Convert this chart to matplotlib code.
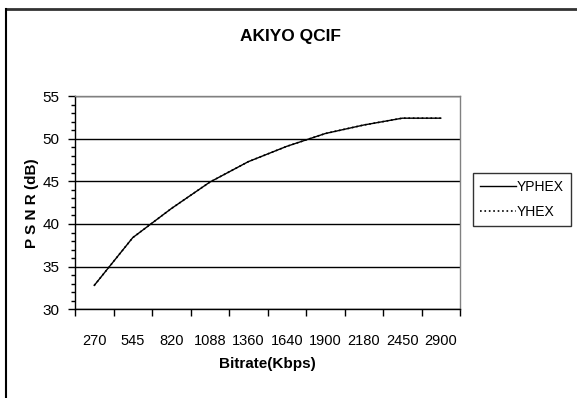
import matplotlib
matplotlib.use("Agg")
from matplotlib import pyplot as plt
from matplotlib.lines import Line2D
from matplotlib.ticker import MultipleLocator, FixedLocator, NullFormatter

FONT = ["Liberation Sans Narrow", "Liberation Sans", "DejaVu Sans"]
plt.rcParams["font.family"] = FONT

bitrates = ["270", "545", "820", "1088", "1360", "1640", "1900", "2180", "2450", "2900"]
yphex = [32.8, 38.4, 41.8, 44.9, 47.3, 49.1, 50.6, 51.6, 52.4, 52.4]
yhex = [32.8, 38.4, 41.8, 44.9, 47.3, 49.1, 50.6, 51.6, 52.4, 52.4]

W, H = 577, 398
fig = plt.figure(figsize=(W / 100, H / 100), dpi=100)

# plot area in pixels: left 75, right 460, top 96, bottom 309
ax = fig.add_axes([75 / W, 1 - 309.3 / H, (460 - 75) / W, (309.3 - 96) / H])

xs = [i + 0.5 for i in range(len(bitrates))]
ax.plot(xs, yphex, "-", color="black", lw=1.0, label="YPHEX")
ax.plot(xs, yhex, ":", color="black", lw=1.2, label="YHEX")

ax.set_xlim(0, len(bitrates))
ax.set_ylim(30, 55)

ax.yaxis.set_major_locator(MultipleLocator(5))
ax.yaxis.set_minor_locator(MultipleLocator(1))
ax.grid(axis="y", which="major", color="black", lw=1)

ax.xaxis.set_major_locator(FixedLocator(range(len(bitrates) + 1)))
ax.xaxis.set_major_formatter(NullFormatter())
ax.xaxis.set_minor_locator(FixedLocator(xs))
ax.set_xticklabels(bitrates, minor=True)

ax.tick_params(axis="x", which="major", direction="out", length=5, width=1)
ax.tick_params(axis="x", which="minor", length=0, pad=18, labelsize=10.5)
ax.tick_params(axis="y", which="major", direction="out", length=5, width=1, pad=6, labelsize=11)
ax.tick_params(axis="y", which="minor", direction="out", length=3, width=1)

for side in ["left", "bottom"]:
    ax.spines[side].set_color("black")
    ax.spines[side].set_linewidth(1)
for side in ["top", "right"]:
    ax.spines[side].set_color("#808080")
    ax.spines[side].set_linewidth(1)

fig.text(290 / W, 1 - 37 / H, "AKIYO QCIF", ha="center", va="center",
         fontsize=12.5, fontweight="bold")
fig.text(267.5 / W, 1 - 364 / H, "Bitrate(Kbps)", ha="center", va="center",
         fontsize=11, fontweight="bold")
fig.text(32 / W, 1 - 203 / H, "P S N R (dB)", ha="center", va="center",
         rotation=90, fontsize=11, fontweight="bold")

leg = fig.legend(loc="upper left", bbox_to_anchor=(472.7 / W, 1 - 172.7 / H),
                 frameon=True, fancybox=False, edgecolor="black", fontsize=10,
                 handlelength=2.6, handletextpad=0.1, borderpad=0.5,
                 labelspacing=0.8, borderaxespad=0)
leg.get_frame().set_linewidth(1)

# outer chart border (top and left edges visible)
fig.add_artist(Line2D([6 / W, 1], [1 - 9 / H, 1 - 9 / H], color="#333333", lw=2))
fig.add_artist(Line2D([6 / W, 6 / W], [0, 1 - 9 / H], color="black", lw=1.5))

fig.savefig("out.png", dpi=100)
